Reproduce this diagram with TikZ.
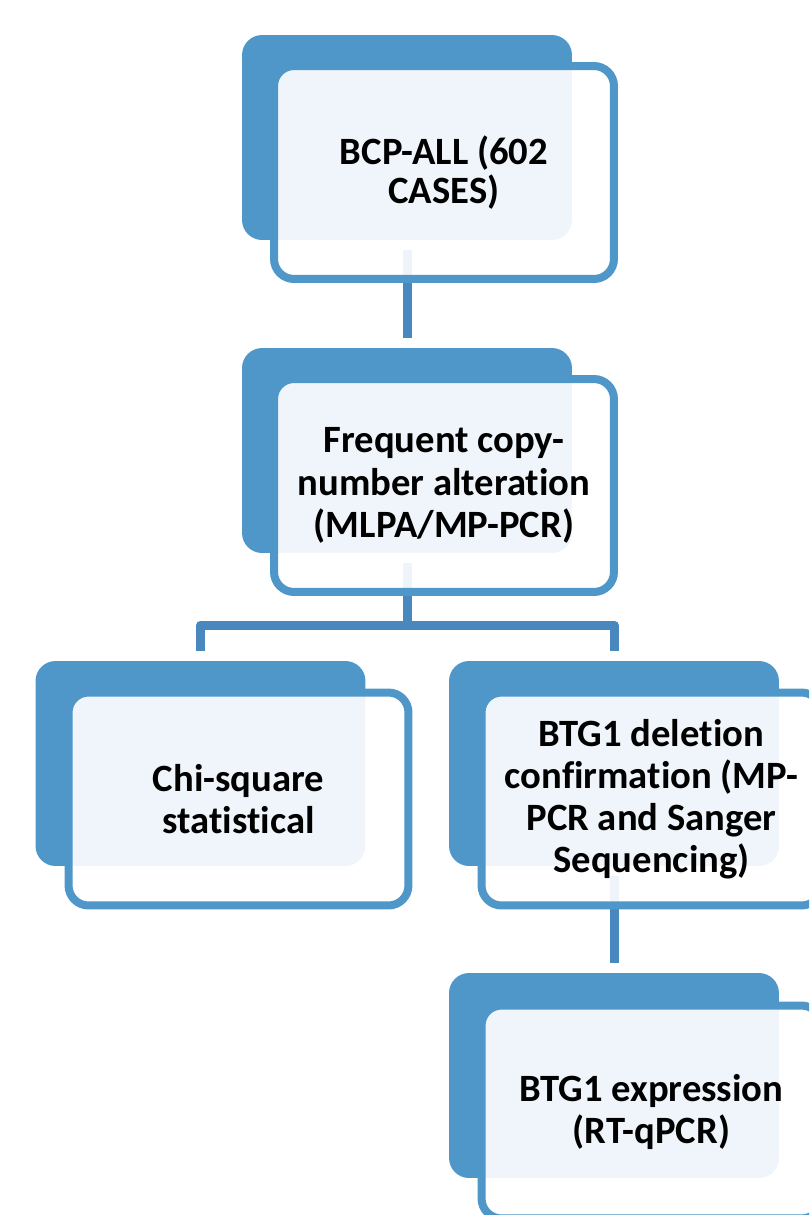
\documentclass[tikz,border=0pt]{standalone}
\usepackage{fontspec}
\setmainfont{Carlito}[Ligatures=NoCommon]
\definecolor{smblue}{RGB}{79,150,201}
\definecolor{smlink}{RGB}{72,136,190}
\usetikzlibrary{positioning}

\begin{document}
\begin{tikzpicture}[x=0.02cm,y=-0.02cm,
  backbox/.style={fill=smblue,rounded corners=0.4cm,minimum width=6.6cm,
    minimum height=4.1cm,inner sep=0pt},
  frontbox/.style={draw=smblue,line width=0.16cm,fill=white,fill opacity=0.91,
    text opacity=1,rounded corners=0.4cm,minimum width=6.8cm,minimum height=4.26cm,
    align=center,inner sep=4pt,font=\fontsize{22}{24}\selectfont\bfseries},
  link/.style={draw=smlink,line width=0.18cm,line join=round}
]
  \useasboundingbox (0,0) rectangle (809,1215);
  \clip (0,0) rectangle (809,1215);

  % Back panels
  \node[backbox] (b1) at (407,137.5) {};
  \node[backbox] (b2) at (407,450.5) {};
  \node[backbox] (b3) at (200.5,763.5) {};
  \node[backbox] (b4) at (614,763.5) {};
  \node[backbox] (b5) at (614,1075.5) {};

  % Connectors
  \coordinate (split) at (407,625);
  \draw[link] ([yshift=-0.2cm]b1.south) -- ([yshift=0.2cm]b2.north);
  \draw[link] ([yshift=-0.2cm]b2.south) -- (split);
  \draw[link] ([yshift=0.2cm]b3.north) |- (split) -| ([yshift=0.2cm]b4.north);
  \draw[link] ([yshift=-0.2cm]b4.south) -- ([yshift=0.2cm]b5.north);

  % Front panels with text
  \node[frontbox,font=\fontsize{22}{22.5}\selectfont\bfseries] (f1) at (444,172.5)
    {BCP-ALL (602\\CASES)};
  \node[frontbox] (f2) at (444,485.5)
    {Frequent copy-\\number alteration\\(MLPA/MP-PCR)};
  \node[frontbox] (f3) at (238.5,799)
    {Chi-square\\statistical};
  \node[frontbox] (f4) at (651.5,799)
    {BTG1 deletion\\confirmation (MP-\\PCR and Sanger\\Sequencing)};
  \node[frontbox] (f5) at (651.5,1112)
    {BTG1 expression\\(RT-qPCR)};
\end{tikzpicture}
\end{document}
